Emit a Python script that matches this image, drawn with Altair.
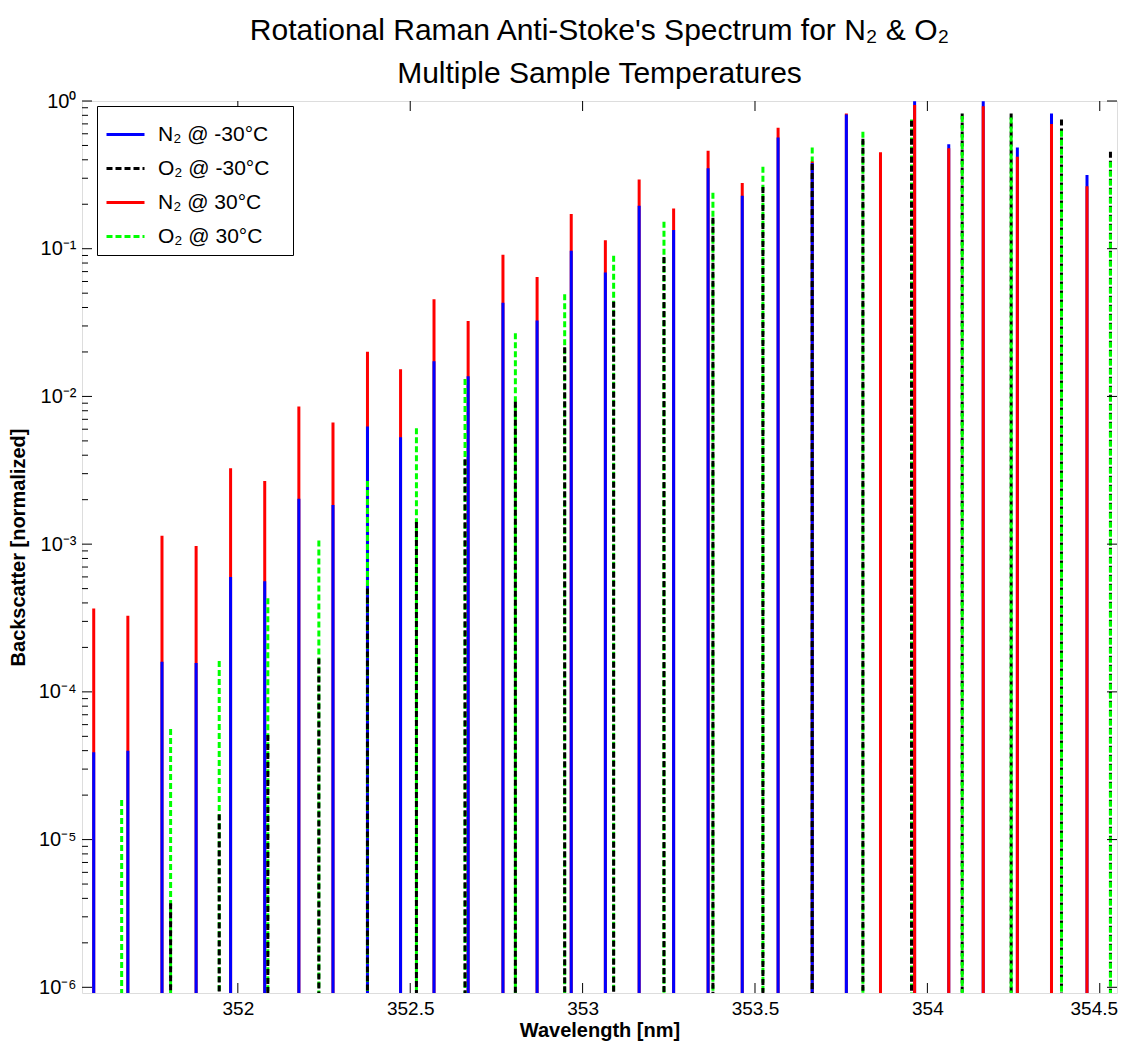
import altair as alt
import pandas as pd

# ---------------- data ----------------
N2_WL = [351.582, 351.681, 351.780, 351.879, 351.979, 352.078, 352.177, 352.276,
         352.376, 352.472, 352.569, 352.668, 352.769, 352.868, 352.967, 353.066,
         353.164, 353.264, 353.364, 353.463, 353.567, 353.666, 353.765, 353.864,
         353.963, 354.062, 354.162, 354.261, 354.360, 354.463]
N2_COLD = [3.9e-5, 4.0e-5, 1.6e-4, 1.57e-4, 6.0e-4, 5.6e-4, 2.03e-3, 1.84e-3,
           6.25e-3, 5.3e-3, 1.73e-2, 1.37e-2, 4.3e-2, 3.27e-2, 0.097, 0.069,
           0.195, 0.134, 0.35, 0.228, 0.567, 0.38, 0.81, None,
           0.995, 0.51, 0.995, 0.485, 0.824, 0.315]
N2_WARM = [3.67e-4, 3.27e-4, 1.14e-3, 9.7e-4, 3.26e-3, 2.68e-3, 8.55e-3, 6.65e-3,
           2.01e-2, 1.53e-2, 4.55e-2, 3.24e-2, 9.1e-2, 6.44e-2, 0.172, 0.114,
           0.294, 0.1875, 0.46, 0.279, 0.659, 0.39, 0.824, 0.449,
           0.94, 0.478, 0.92, 0.419, 0.698, 0.265]

O2_WL = [351.663, 351.805, 351.946, 352.087, 352.235, 352.376, 352.518, 352.659,
         352.805, 352.948, 353.090, 353.236, 353.378, 353.523, 353.666, 353.813,
         353.954, 354.101, 354.243, 354.389, 354.531]
O2_COLD = [None, 3.7e-6, 1.48e-5, 5.1e-5, 1.68e-4, 5.0e-4, 1.41e-3, 3.76e-3,
           9.2e-3, 2.15e-2, 4.37e-2, 0.088, 0.162, 0.262, 0.375, 0.555,
           0.735, 0.824, 0.824, 0.75, 0.453]
O2_WARM = [1.85e-5, 5.6e-5, 1.62e-4, 4.3e-4, 1.06e-3, 2.68e-3, 6.1e-3, 1.31e-2,
           2.68e-2, 4.92e-2, 0.0895, 0.152, 0.239, 0.359, 0.485, 0.62,
           0.75, 0.79, 0.774, 0.63, 0.388]

SERIES = ["N\u2082 @ -30\u00b0C", "O\u2082 @ -30\u00b0C", "N\u2082 @ 30\u00b0C", "O\u2082 @ 30\u00b0C"]
COLORS = ["#0000ff", "#000000", "#ff0000", "#00ff00"]
DASHES = [[1, 0], [6, 3], [1, 0], [6, 3]]

X_TICKS = [352, 352.5, 353, 353.5, 354, 354.5]
Y_MAJOR = [1e-6, 1e-5, 1e-4, 1e-3, 1e-2, 1e-1, 1.0]
Y_MINOR = [m * 10.0 ** e for e in range(-6, 0) for m in range(2, 10)]
X_DOMAIN = [351.548, 354.550]
Y_DOMAIN = [9.15e-7, 1.0]

TITLE = ["Rotational Raman Anti-Stoke's Spectrum for N\u2082 & O\u2082",
         "Multiple Sample Temperatures"]

W, H = 1035, 892
FONT = "Liberation Sans"

# ---------------- table ----------------
rows = []
for name, wls, vals in [(SERIES[0], N2_WL, N2_COLD), (SERIES[1], O2_WL, O2_COLD),
                        (SERIES[2], N2_WL, N2_WARM), (SERIES[3], O2_WL, O2_WARM)]:
    for w, v in zip(wls, vals):
        if v is not None:
            rows.append({"wl": w, "val": v, "series": name})
df = pd.DataFrame(rows).sort_values("val", ascending=False).reset_index(drop=True)
df["rank"] = range(len(df))

xscale = alt.Scale(domain=X_DOMAIN, nice=False, zero=False)
yscale = alt.Scale(type="log", domain=Y_DOMAIN, nice=False)

sup = {0: "\u2070", -1: "\u207b\u00b9", -2: "\u207b\u00b2", -3: "\u207b\u00b3",
       -4: "\u207b\u2074", -5: "\u207b\u2075", -6: "\u207b\u2076"}
e = "round(log(datum.value)/LN10)"
expr = "''"
for k in sorted(sup):
    expr = f"({e} == {k} ? '{sup[k]}' : {expr})"
label_expr = "'10' + " + expr

legend = alt.Legend(
    title=None, orient="none", legendX=15, legendY=5,
    fillColor="white", strokeColor="black", padding=8,
    symbolType="stroke", symbolSize=1444, symbolStrokeWidth=3,
    labelFont=FONT, labelFontSize=21, labelOffset=12, rowPadding=3,
    labelColor="black", labelExpr="datum.label + '\u2800'",
)

xaxis = alt.Axis(values=X_TICKS, format="~g", title="Wavelength [nm]",
                 ticks=False, tickSize=0, domain=False, grid=False,
                 labelFont=FONT, labelFontSize=19, labelPadding=6,
                 labelOffset={"condition": {"test": "datum.value > 354.4", "value": -6},
                              "value": 0},
                 labelColor="black", titleColor="black",
                 titleFont=FONT, titleFontSize=20, titleFontWeight="bold",
                 titlePadding=2)
yaxis = alt.Axis(values=Y_MAJOR, labelExpr=label_expr,
                 title="Backscatter [normalized]",
                 ticks=False, tickSize=0, domain=False, grid=False,
                 labelFont=FONT, labelFontSize=20, labelPadding=6,
                 labelColor="black", titleColor="black",
                 titleFont=FONT, titleFontSize=20, titleFontWeight="bold",
                 titlePadding=10)

lines = alt.Chart(df).mark_rule(strokeWidth=3, clip=True).encode(
    x=alt.X("wl:Q", scale=xscale, axis=xaxis),
    y=alt.Y("val:Q", scale=yscale, axis=yaxis),
    y2=alt.value(H),
    color=alt.Color("series:N", scale=alt.Scale(domain=SERIES, range=COLORS), legend=legend),
    strokeDash=alt.StrokeDash("series:N", scale=alt.Scale(domain=SERIES, range=DASHES), legend=legend),
    order=alt.Order("rank:Q"),
)

# tick positions, drawn inward like the original frame ticks
ymaj = pd.DataFrame({"val": Y_MAJOR})
ymin = pd.DataFrame({"val": Y_MINOR})
xt = pd.DataFrame({"wl": X_TICKS})

left_major = alt.Chart(ymaj).mark_rule(color="black", strokeWidth=1).encode(
    y=alt.Y("val:Q", scale=yscale, axis=yaxis), x=alt.value(0), x2=alt.value(10))
left_minor = alt.Chart(ymin).mark_rule(color="black", strokeWidth=1).encode(
    y=alt.Y("val:Q", scale=yscale, axis=yaxis), x=alt.value(0), x2=alt.value(6))
right_major = alt.Chart(ymaj).mark_rule(color="black", strokeWidth=1).encode(
    y=alt.Y("val:Q", scale=yscale, axis=yaxis), x=alt.value(W - 10), x2=alt.value(W))
bottom_ticks = alt.Chart(xt).mark_rule(color="black", strokeWidth=1).encode(
    x=alt.X("wl:Q", scale=xscale, axis=xaxis), y=alt.value(H - 10), y2=alt.value(H))
top_ticks = alt.Chart(xt).mark_rule(color="black", strokeWidth=1).encode(
    x=alt.X("wl:Q", scale=xscale, axis=xaxis), y=alt.value(0), y2=alt.value(10))

chart = alt.layer(lines, left_major, left_minor, right_major, bottom_ticks, top_ticks).properties(
    width=W, height=H,
    padding={"left": 74, "top": 93, "right": 2, "bottom": 50},
    autosize=alt.AutoSizeParams(type="none"),
    title=alt.Title(text=TITLE, font=FONT, fontSize=30, fontWeight="normal",
                    color="black", lineHeight=43, anchor="middle", offset=2),
).configure_view(stroke="black", strokeWidth=1.5).configure(background="white")

chart.save("out.html", embed_options={"renderer": "svg", "actions": False})
